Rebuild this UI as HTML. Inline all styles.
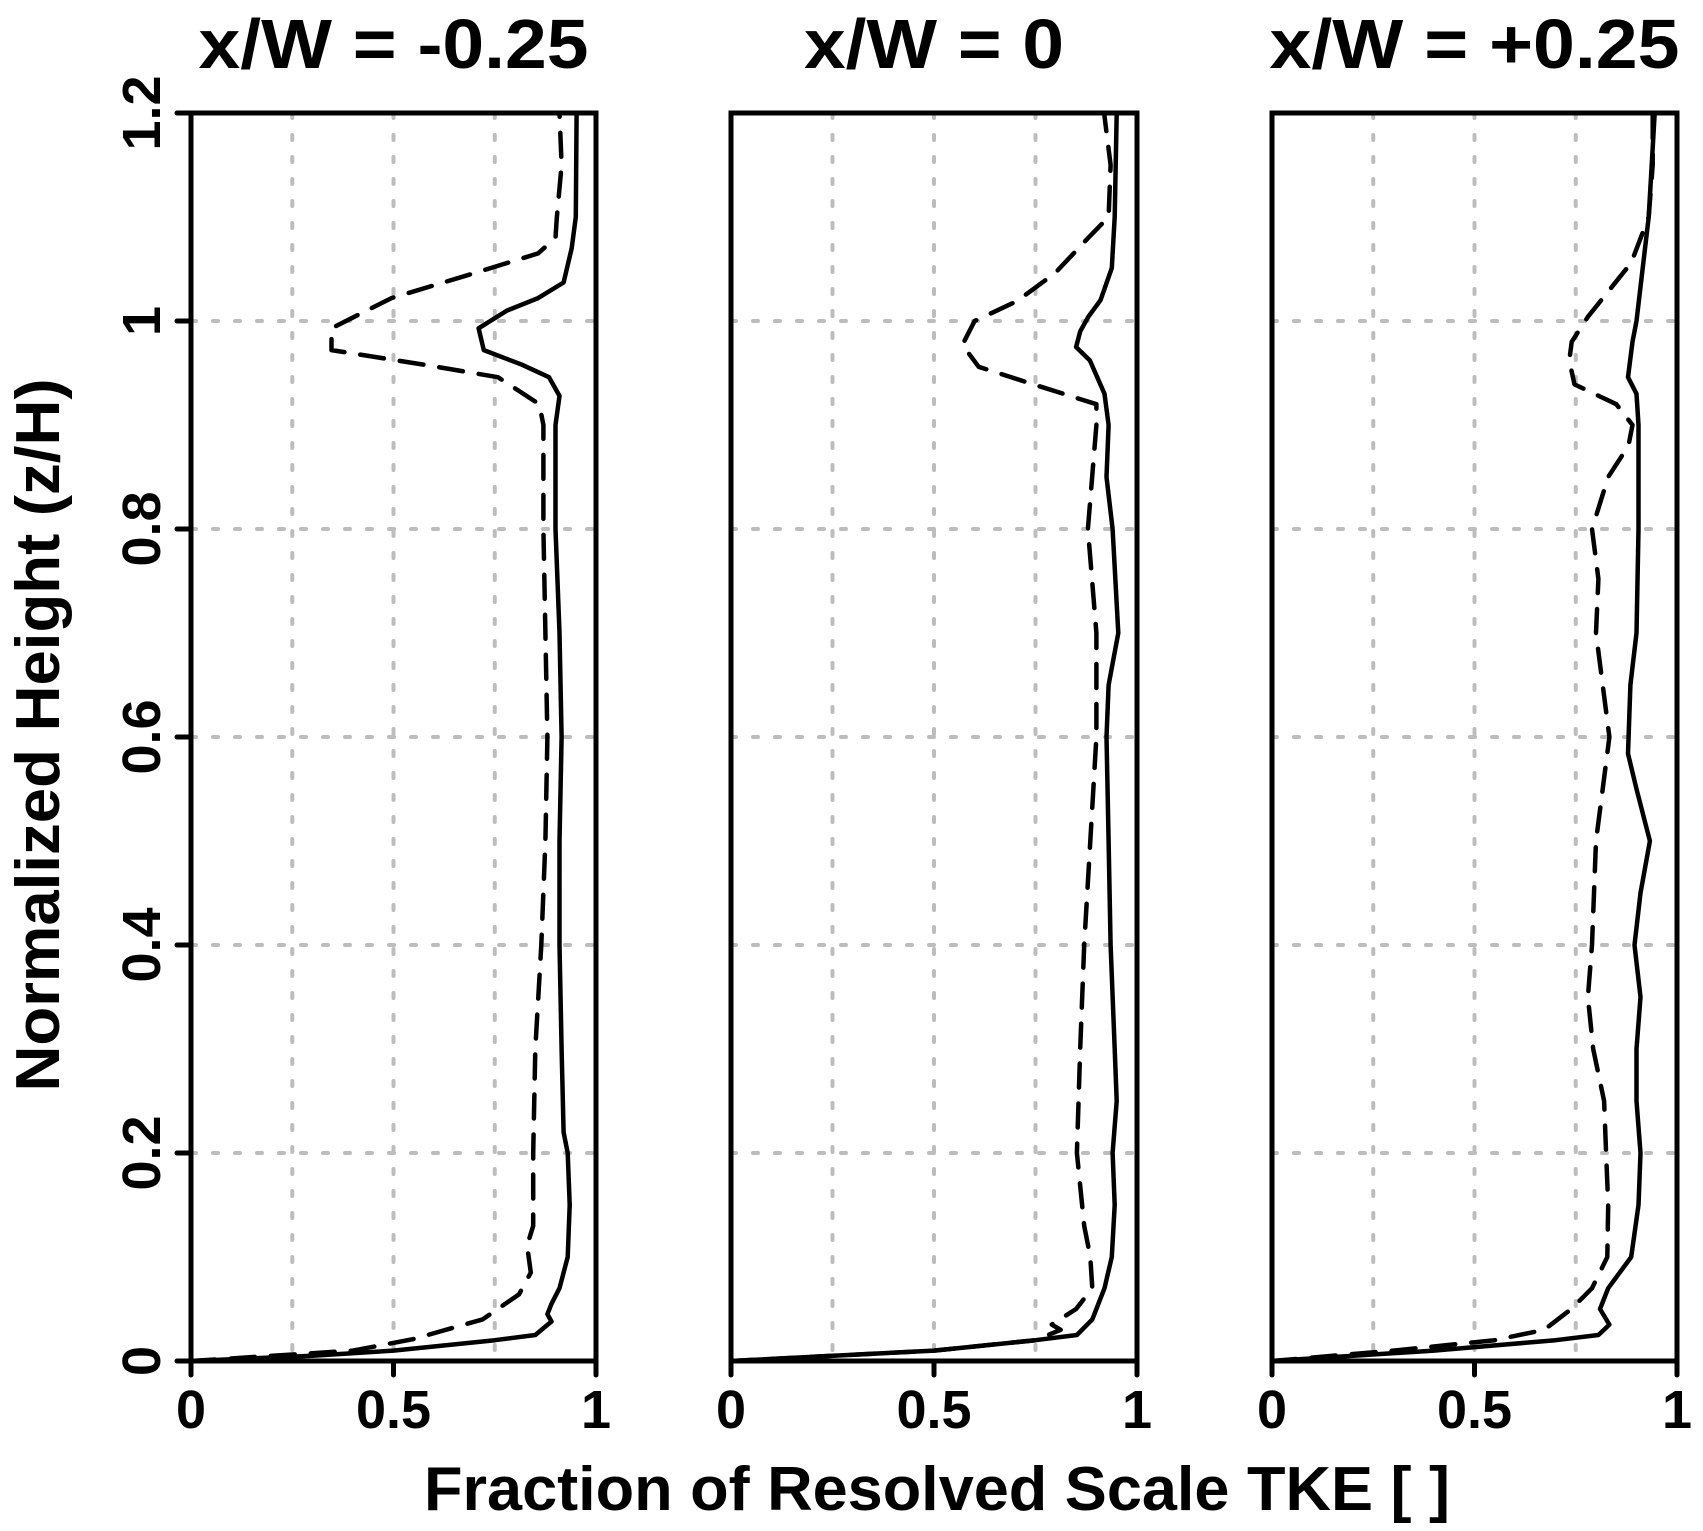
<!DOCTYPE html>
<html><head><meta charset="utf-8"><style>
body{margin:0;background:#fff}
svg text{font-family:"Liberation Sans",Arial,sans-serif;font-weight:bold;fill:#000}
</style></head><body>
<svg id="chart" width="1703" height="1526" viewBox="0 0 1703 1526" xmlns="http://www.w3.org/2000/svg">
<g id="root"></g>
</svg>
<script>
const panelTitles = ["x/W = -0.25", "x/W = 0", "x/W = +0.25"];
const titleWidths = [390, 260, 410];
const xTicks = [0, 0.5, 1];
const xTickLabels = ["0", "0.5", "1"];
const yTicks = [0, 0.2, 0.4, 0.6, 0.8, 1, 1.2];
const yTickLabels = ["0", "0.2", "0.4", "0.6", "0.8", "1", "1.2"];
const xGrid = [0.25, 0.5, 0.75];
const yGrid = [0.2, 0.4, 0.6, 0.8, 1.0];
const solidZ1 = [0,0.005,0.01,0.02,0.025,0.038,0.045,0.055,0.07,0.1,0.15,0.2,0.22,0.3,0.4,0.5,0.6,0.7,0.8,0.9,0.928,0.946,0.958,0.972,0.993,1.01,1.022,1.037,1.07,1.1,1.2];
const solidX1 = [0,0.3,0.5,0.75,0.85,0.89,0.88,0.89,0.91,0.93,0.935,0.93,0.92,0.915,0.91,0.91,0.915,0.91,0.9,0.9,0.91,0.884,0.817,0.723,0.71,0.78,0.857,0.92,0.94,0.95,0.952];
const dashZ1 = [0,0.01,0.021,0.04,0.064,0.085,0.111,0.13,0.2,0.3,0.4,0.5,0.6,0.7,0.8,0.9,0.92,0.946,0.958,0.972,0.993,1.022,1.044,1.065,1.08,1.098,1.15,1.2];
const dashX1 = [0,0.4,0.548,0.72,0.81,0.839,0.83,0.845,0.845,0.85,0.865,0.875,0.88,0.875,0.87,0.87,0.86,0.758,0.575,0.347,0.347,0.495,0.683,0.857,0.9,0.903,0.915,0.91];
const solidZ2 = [0,0.01,0.02,0.025,0.04,0.07,0.1,0.15,0.2,0.25,0.3,0.4,0.5,0.6,0.65,0.7,0.8,0.85,0.9,0.93,0.962,0.975,0.99,1.004,1.02,1.051,1.1,1.2];
const solidX2 = [0,0.5,0.75,0.852,0.89,0.92,0.938,0.945,0.94,0.95,0.945,0.935,0.93,0.925,0.93,0.954,0.94,0.925,0.93,0.92,0.884,0.85,0.86,0.88,0.91,0.938,0.945,0.95];
const dashZ2 = [0,0.01,0.02,0.03,0.035,0.05,0.07,0.1,0.13,0.2,0.3,0.4,0.5,0.6,0.7,0.8,0.9,0.92,0.939,0.956,0.977,1.0,1.019,1.046,1.08,1.1,1.15,1.2];
const dashX2 = [0,0.5,0.75,0.812,0.79,0.85,0.89,0.885,0.87,0.852,0.86,0.87,0.885,0.9,0.9,0.879,0.9,0.9,0.745,0.61,0.57,0.6,0.704,0.798,0.88,0.93,0.935,0.919];
const solidZ3 = [0,0.01,0.02,0.025,0.035,0.05,0.07,0.1,0.15,0.2,0.25,0.3,0.35,0.4,0.45,0.5,0.55,0.584,0.65,0.7,0.8,0.9,0.93,0.946,0.98,1.0,1.05,1.1,1.2];
const solidX3 = [0,0.4,0.7,0.806,0.833,0.81,0.83,0.887,0.905,0.91,0.9,0.9,0.91,0.895,0.91,0.933,0.9,0.879,0.885,0.9,0.905,0.905,0.9,0.879,0.89,0.9,0.915,0.93,0.945];
const dashZ3 = [0,0.01,0.02,0.03,0.05,0.07,0.1,0.15,0.2,0.25,0.3,0.35,0.4,0.5,0.6,0.7,0.752,0.8,0.85,0.88,0.9,0.92,0.939,0.962,0.98,1.004,1.056,1.1,1.15,1.2];
const dashX3 = [0,0.3,0.55,0.672,0.739,0.79,0.828,0.83,0.825,0.82,0.793,0.78,0.79,0.8,0.833,0.8,0.806,0.79,0.83,0.88,0.89,0.85,0.747,0.734,0.74,0.78,0.887,0.93,0.94,0.94];

const panels = [
  {x0:191, x1:596, sz:solidZ1, sx:solidX1, dz:dashZ1, dx:dashX1},
  {x0:731, x1:1137, sz:solidZ2, sx:solidX2, dz:dashZ2, dx:dashX2},
  {x0:1272, x1:1677, sz:solidZ3, sx:solidX3, dz:dashZ3, dx:dashX3}
];
const yTop = 113, yBot = 1361;
const NS = "http://www.w3.org/2000/svg";
const root = document.getElementById('root');
function yScale(v){ return yBot - v/1.2*(yBot-yTop); }
function mk(tag, attrs, parent){
  const e = document.createElementNS(NS, tag);
  for (const k in attrs) e.setAttribute(k, attrs[k]);
  (parent||root).appendChild(e);
  return e;
}
panels.forEach((p, i) => {
  const xs = v => p.x0 + v*(p.x1-p.x0);
  const g = mk('g', {});
  
  
  xGrid.forEach(v => {
    const l = mk('line', {x1:xs(v), x2:xs(v), y1:yTop, y2:yBot, stroke:'#bdbdbd', 'stroke-width':4, 'stroke-dasharray':'5 17', 'stroke-linecap':'round'}, g);
    
    
  });
  yGrid.forEach(v => {
    const l = mk('line', {x1:p.x0, x2:p.x1, y1:yScale(v), y2:yScale(v), stroke:'#bdbdbd', 'stroke-width':4, 'stroke-dasharray':'5 17', 'stroke-linecap':'round'}, g);
    
    
  });
  const solidPts = p.sz.map((z, k) => xs(p.sx[k]).toFixed(1) + ',' + yScale(z).toFixed(1)).join(' ');
  const s = mk('polyline', {points:solidPts, fill:'none', stroke:'#000', 'stroke-width':4.5, 'stroke-linejoin':'round', 'stroke-linecap':'round'}, g);
  
  
  const dashPts = p.dz.map((z, k) => xs(p.dx[k]).toFixed(1) + ',' + yScale(z).toFixed(1)).join(' ');
  const d = mk('polyline', {points:dashPts, fill:'none', stroke:'#000', 'stroke-width':4.5, 'stroke-dasharray':'24 16', 'stroke-linejoin':'round', 'stroke-linecap':'round'}, g);
  
  
  const fr = mk('rect', {x:p.x0, y:yTop, width:p.x1-p.x0, height:yBot-yTop, fill:'none', stroke:'#000', 'stroke-width':5}, g);
  
  
  xTicks.forEach((v, k) => {
    const t = mk('line', {x1:xs(v), x2:xs(v), y1:yBot, y2:yBot+14, stroke:'#000', 'stroke-width':5, 'stroke-linecap':'round'}, g);
    
    
    const tl = mk('text', {x:xs(v), y:1428, 'text-anchor':'middle', 'font-size':54}, g);
    tl.textContent = xTickLabels[k];
    
    
  });
  const tt = mk('text', {x:(p.x0+p.x1)/2, y:68, 'text-anchor':'middle', 'font-size':70, textLength:titleWidths[i], lengthAdjust:'spacingAndGlyphs'}, g);
  tt.textContent = panelTitles[i];
  
  
  if (i === 0) {
    yTicks.forEach((v, k) => {
      const t = mk('line', {x1:p.x0-14, x2:p.x0, y1:yScale(v), y2:yScale(v), stroke:'#000', 'stroke-width':5, 'stroke-linecap':'round'}, g);
      
      
      const tl = mk('text', {x:0, y:0, 'text-anchor':'middle', 'font-size':54, transform:'translate(160,' + yScale(v) + ') rotate(-90)'}, g);
      tl.textContent = yTickLabels[k];
      
      
    });
  }
});
const yl = mk('text', {x:0, y:0, 'text-anchor':'middle', 'font-size':62, textLength:713, lengthAdjust:'spacingAndGlyphs', transform:'translate(59,735) rotate(-90)'});
yl.textContent = 'Normalized Height (z/H)';


const xl = mk('text', {x:937, y:1510, 'text-anchor':'middle', 'font-size':62, textLength:1026, lengthAdjust:'spacingAndGlyphs'});
xl.textContent = 'Fraction of Resolved Scale TKE [ ]';


</script>
</body></html>
